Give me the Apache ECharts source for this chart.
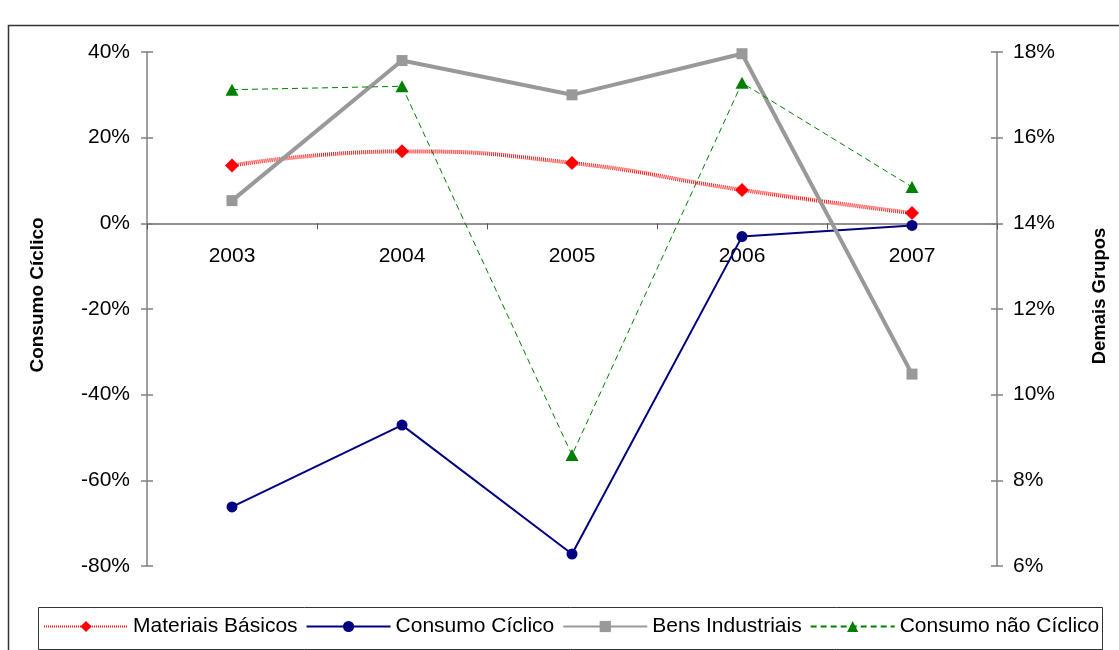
<!DOCTYPE html>
<html>
<head>
<meta charset="utf-8">
<script src="https://cdn.jsdelivr.net/npm/echarts@6/dist/echarts.min.js"></script>
<style>
  html, body { margin: 0; padding: 0; background: #ffffff; }
  #chart { width: 1119px; height: 650px; }
</style>
</head>
<body>
<div id="chart"></div>
<script>
// Years on the category axis
const years = ['2003', '2004', '2005', '2006', '2007'];

// Consumo Cíclico, left axis (%)
const consumoCiclico = [-66.2, -47.1, -77.2, -3.1, -0.5];

// Demais Grupos, right axis (%)
const materiaisBasicos = [15.35, 15.68, 15.41, 14.78, 14.24];
const bensIndustriais = [14.53, 17.80, 17.00, 17.96, 10.48];
const consumoNaoCiclico = [17.12, 17.20, 8.59, 17.28, 14.85];

// Axis ranges
const leftAxis = { min: -80, max: 40, interval: 20 };
const rightAxis = { min: 6, max: 18, interval: 2 };

const FONT = 'Liberation Sans, Arial, Helvetica, sans-serif';
const pct = v => v + '%';

const GRID = { left: 147, right: 122, top: 52, bottom: 84 };
const plotHeight = 650 - GRID.top - GRID.bottom;
// the category axis sits on the 0% line of the left axis
const zeroOffset = -plotHeight * (0 - leftAxis.min) / (leftAxis.max - leftAxis.min);

const chart = echarts.init(document.getElementById('chart'), null, { renderer: 'canvas' });

const tickLineY = { color: '#808080', width: 1.5 };

chart.setOption({
  backgroundColor: '#ffffff',
  animation: false,
  textStyle: { fontFamily: FONT, color: '#000' },
  grid: Object.assign({ containLabel: false }, GRID),
  xAxis: {
    type: 'category',
    data: years,
    boundaryGap: true,
    position: 'bottom',
    offset: zeroOffset,
    axisLine: { onZero: false, lineStyle: { color: '#6e6e6e', width: 1.5 } },
    axisTick: { show: true, length: 6, lineStyle: { color: '#555', width: 1 } },
    axisLabel: { fontSize: 21, color: '#000', margin: 22, fontFamily: FONT },
    splitLine: { show: false }
  },
  yAxis: [
    {
      type: 'value', position: 'left',
      min: leftAxis.min, max: leftAxis.max, interval: leftAxis.interval,
      axisLine: { show: true, lineStyle: tickLineY },
      axisTick: { show: true, length: 6, lineStyle: tickLineY },
      axisLabel: { fontSize: 21, color: '#000', margin: 17, formatter: pct, fontFamily: FONT },
      splitLine: { show: false }
    },
    {
      type: 'value', position: 'right',
      min: rightAxis.min, max: rightAxis.max, interval: rightAxis.interval,
      axisLine: { show: true, lineStyle: tickLineY },
      axisTick: { show: true, length: 6, lineStyle: tickLineY },
      axisLabel: { fontSize: 21, color: '#000', margin: 16, formatter: pct, fontFamily: FONT },
      splitLine: { show: false }
    },
    // inner halves of the crossing tick marks
    {
      type: 'value', position: 'left',
      min: leftAxis.min, max: leftAxis.max, interval: leftAxis.interval,
      axisLine: { show: false },
      axisTick: { show: true, inside: true, length: 6, lineStyle: tickLineY },
      axisLabel: { show: false },
      splitLine: { show: false }
    },
    {
      type: 'value', position: 'right',
      min: rightAxis.min, max: rightAxis.max, interval: rightAxis.interval,
      axisLine: { show: false },
      axisTick: { show: true, inside: true, length: 6, lineStyle: tickLineY },
      axisLabel: { show: false },
      splitLine: { show: false }
    }
  ],
  legend: {
    left: 43, top: 616,
    padding: 0,
    itemWidth: 84, itemHeight: 14, itemGap: 8,
    textStyle: { fontSize: 21, color: '#000', fontFamily: FONT },
    data: ['Materiais Básicos', 'Consumo Cíclico', 'Bens Industriais', 'Consumo não Cíclico']
  },
  graphic: [
    // outer chart frame
    { type: 'rect', silent: true, z: -1,
      shape: { x: 8.5, y: 25.5, width: 1200, height: 700 },
      style: { fill: 'none', stroke: '#333', lineWidth: 1.5 } },
    // legend box
    { type: 'rect', silent: true,
      shape: { x: 38.5, y: 607.5, width: 1064, height: 42 },
      style: { fill: 'none', stroke: '#333', lineWidth: 1 } },
    // axis titles
    { type: 'text', silent: true, x: 38, y: 295, rotation: Math.PI / 2,
      style: { text: 'Consumo Cíclico', fontSize: 19, fontWeight: 'bold', fontFamily: FONT,
               fill: '#000', align: 'center', verticalAlign: 'middle' } },
    { type: 'text', silent: true, x: 1100, y: 296, rotation: Math.PI / 2,
      style: { text: 'Demais Grupos', fontSize: 18.5, fontWeight: 'bold', fontFamily: FONT,
               fill: '#000', align: 'center', verticalAlign: 'middle' } }
  ],
  series: [
    {
      name: 'Materiais Básicos', type: 'line', yAxisIndex: 1,
      data: materiaisBasicos, smooth: true,
      symbol: 'diamond', symbolSize: 14,
      itemStyle: { color: '#ff0000' },
      lineStyle: { color: '#ff0000', width: 4, type: [1, 1], opacity: 0.9 },
      z: 2
    },
    {
      name: 'Consumo Cíclico', type: 'line', yAxisIndex: 0,
      data: consumoCiclico,
      symbol: 'circle', symbolSize: 11,
      itemStyle: { color: '#000080' },
      lineStyle: { color: '#000080', width: 2 },
      z: 3
    },
    {
      name: 'Bens Industriais', type: 'line', yAxisIndex: 1,
      data: bensIndustriais,
      symbol: 'rect', symbolSize: 11,
      itemStyle: { color: '#999999' },
      lineStyle: { color: '#999999', width: 4 },
      z: 4
    },
    {
      name: 'Consumo não Cíclico', type: 'line', yAxisIndex: 1,
      data: consumoNaoCiclico,
      symbol: 'triangle', symbolSize: [13, 12],
      itemStyle: { color: '#008000' },
      lineStyle: { color: '#008000', width: 1, type: [6, 4] },
      z: 5
    }
  ]
});
</script>
</body>
</html>
